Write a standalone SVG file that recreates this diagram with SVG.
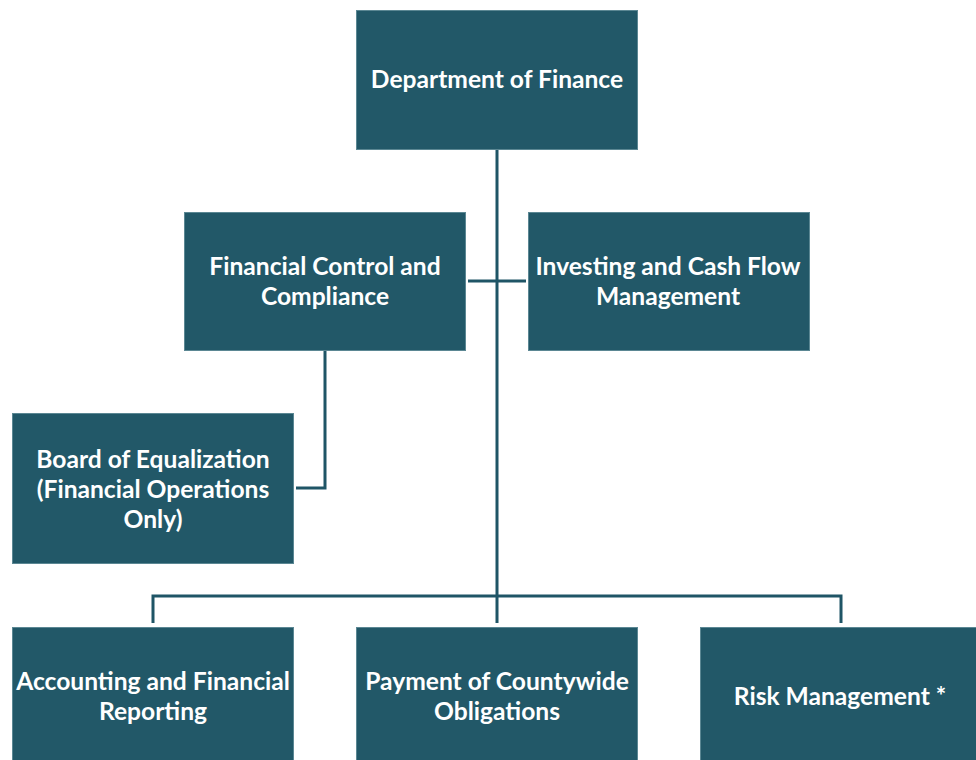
<svg xmlns="http://www.w3.org/2000/svg" width="976" height="760" viewBox="0 0 976 760">
<style>
.box{fill:#225868;stroke:#5b8793;stroke-width:1}
.t{font-family:Lato,"Open Sans","Liberation Sans",sans-serif;font-weight:bold;font-size:24.6px;fill:#ffffff;text-anchor:middle}
.c{fill:none;stroke:#1f5566;stroke-width:3}
</style>
<rect width="976" height="760" fill="#ffffff"/>
<g id="connectors">
<line class="c" x1="497" y1="149" x2="497" y2="623"/>
<line class="c" x1="468" y1="281" x2="526" y2="281"/>
<polyline class="c" points="325,351 325,488 296,488"/>
<polyline class="c" points="153,623 153,596 841,596 841,623"/>
</g>
<g id="dept">
<rect class="box" x="356.5" y="10.5" width="281" height="139"/>
<text class="t" x="497" y="88">Department of Finance</text>
</g>
<g id="fcc">
<rect class="box" x="184.5" y="212.5" width="281" height="138"/>
<text class="t" x="325" y="275">Financial Control and</text>
<text class="t" x="325" y="305">Compliance</text>
</g>
<g id="icf">
<rect class="box" x="528.5" y="212.5" width="281" height="138"/>
<text class="t" x="668" y="275">Investing and Cash Flow</text>
<text class="t" x="668" y="305">Management</text>
</g>
<g id="boe">
<rect class="box" x="12.5" y="413.5" width="281" height="150"/>
<text class="t" x="153" y="468">Board of Equalization</text>
<text class="t" x="153" y="498">(Financial Operations</text>
<text class="t" x="153" y="528">Only)</text>
</g>
<g id="afr">
<rect class="box" x="12.5" y="627.5" width="281" height="140"/>
<text class="t" x="153" y="690">Accounting and Financial</text>
<text class="t" x="153" y="720">Reporting</text>
</g>
<g id="pco">
<rect class="box" x="356.5" y="627.5" width="281" height="140"/>
<text class="t" x="497" y="690">Payment of Countywide</text>
<text class="t" x="497" y="720">Obligations</text>
</g>
<g id="risk">
<rect class="box" x="700.5" y="627.5" width="281" height="140"/>
<text class="t" x="840" y="705">Risk Management *</text>
</g>
</svg>
